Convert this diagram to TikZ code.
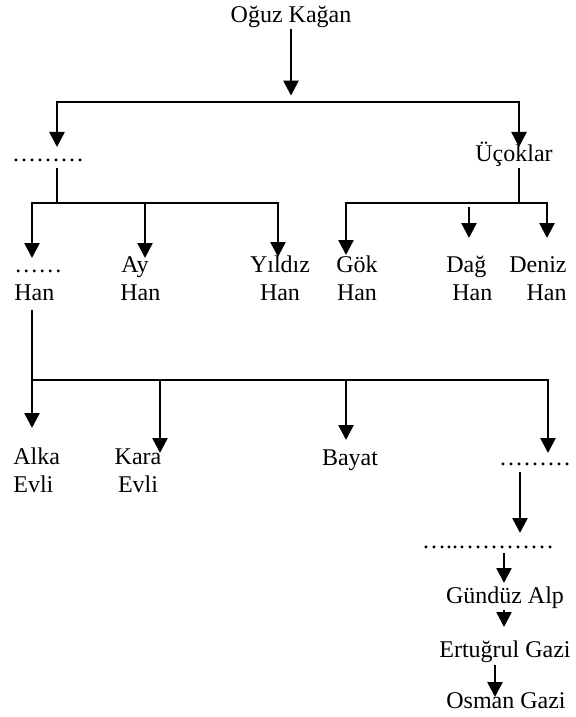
\documentclass[tikz,border=0pt]{standalone}
\usepackage{fontspec}
\setmainfont{Liberation Serif}
\usetikzlibrary{arrows.meta}
\tikzset{
  lbl/.style={inner sep=0pt, anchor=base, align=center, font=\fontsize{12}{13.8}\selectfont},
  link/.style={line width=1.25pt},
  arr/.style={link, -{Triangle[length=7.5pt,width=7.5pt]}}
}

\begin{document}
\begin{tikzpicture}[x=0.5pt,y=-0.5pt]
    \useasboundingbox (0,0) rectangle (576,717);

    \node[lbl] (oguz) at (291,23) {Oğuz Kağan};
    \node[lbl] (dotsA) at (48,162) {………};
    \node[lbl] (ucoklar) at (514,162) {Üçoklar};

    \node[lbl, anchor=base west, align=left] (hanA) at (14,300) {……\\Han};
    \node[lbl, anchor=base west, align=left] (ay) at (120,300) {\hspace{0.5pt}Ay\\Han};
    \node[lbl] (yildiz) at (280,300) {Yıldız\\Han};
    \node[lbl] (gok) at (357,300) {Gök\\Han};
    \node[lbl, anchor=base west, align=left] (dag) at (446,300) {Dağ\\\hspace{3pt}Han};
    \node[lbl, anchor=base east, align=right] (deniz) at (567,300) {Deniz\\Han};

    \node[lbl, anchor=base west, align=left] (alka) at (13,492) {Alka\\Evli};
    \node[lbl] (kara) at (138,492) {Kara\\Evli};
    \node[lbl] (bayat) at (350,465) {Bayat};
    \node[lbl] (dotsB) at (535,465) {………};
    \node[lbl] (dotsC) at (488,548) {…..…………};
    \node[lbl] (gunduz) at (505,603) {Gündüz Alp};
    \node[lbl] (ertugrul) at (505,657) {Ertuğrul Gazi};
    \node[lbl] (osman) at (506,708) {Osman Gazi};

    % bus points
    \coordinate (busA) at (57,102);
    \coordinate (busB) at (519,102);
    \coordinate (stemA) at (57,168);
    \coordinate (busC) at (32,203);
    \coordinate (ayT) at (145,203);
    \coordinate (busD) at (278,203);
    \coordinate (stemB) at (519,168);
    \coordinate (busE) at (346,203);
    \coordinate (busF) at (547,203);
    \coordinate (dagT) at (469,207);
    \coordinate (stemC) at (32,310);
    \coordinate (busG) at (32,380);
    \coordinate (karaT) at (160,380);
    \coordinate (bayatT) at (346,380);
    \coordinate (busH) at (548,380);
    \coordinate (dotsT) at (520,472);
    \coordinate (gunduzT) at (504,553);
    \coordinate (ertugrulT) at (504,610);
    \coordinate (osmanT) at (495,665);

    \draw[arr] (oguz.south) -- ++(0,67);
    \draw[arr] (busB) -- (busA) -- ++(0,45);
    \draw[arr] (busA) -- (busB) -- ++(0,45);

    \draw[link] (stemA) -- (stemA |- busC);
    \draw[arr] (busD) -- (busC) -- ++(0,55);
    \draw[arr] (busC) -- (busD) -- ++(0,54);
    \draw[arr] (ayT) -- ++(0,55);

    \draw[link] (stemB) -- (stemB |- busE);
    \draw[arr] (busF) -- (busE) -- ++(0,52);
    \draw[arr] (busE) -- (busF) -- ++(0,35);
    \draw[arr] (dagT) -- ++(0,31);

    \draw[link] (stemC) -- (busG);
    \draw[arr] (busH) -- (busG) -- ++(0,48);
    \draw[arr] (busG) -- (busH) -- ++(0,73);
    \draw[arr] (karaT) -- ++(0,73);
    \draw[arr] (bayatT) -- ++(0,60);

    \draw[arr] (dotsT) -- ++(0,61);
    \draw[arr] (gunduzT) -- ++(0,30);
    \draw[arr] (ertugrulT) -- ++(0,17);
    \draw[arr] (osmanT) -- ++(0,32);
\end{tikzpicture}
\end{document}
